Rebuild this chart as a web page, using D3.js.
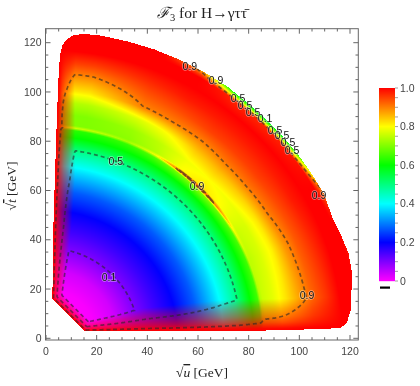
<!DOCTYPE html>
<html>
<head>
<meta charset="utf-8">
<script src="https://cdn.jsdelivr.net/npm/d3@7"></script>
<style>
body { margin: 0; background: #fff; }
#wrap { position: relative; width: 420px; height: 386px; }
#wrap canvas, #wrap svg { position: absolute; left: 0; top: 0; }
</style>
</head>
<body>
<div id="wrap">
  <canvas id="heat" width="420" height="386"></canvas>
  <svg id="chart" width="420" height="386"></svg>
</div>
<script>
// F3 on a polar grid: r = sqrt(t+u) in GeV, phi in degrees from the sqrt(u) axis
var phiNodes = [0, 10, 22, 30, 38, 45, 52, 60, 68, 80, 90];
var rNodes = [10, 16, 20, 28, 36, 44, 52, 60, 68, 76, 82, 85, 86, 87, 91, 96, 101, 106, 112, 117, 122, 123.3, 124.5, 127];
var f3Rows = [
  [0, 0, 0, 0, 0, 0, 0, 0, 0, 0, 0],
  [0, 0, 0, 0, 0, 0, 0, 0, 0, 0, 0],
  [0.005, 0.005, 0.005, 0.005, 0.005, 0.005, 0.005, 0.005, 0.005, 0.005, 0.005],
  [0.035, 0.035, 0.035, 0.035, 0.035, 0.035, 0.035, 0.035, 0.035, 0.035, 0.035],
  [0.095, 0.095, 0.095, 0.095, 0.095, 0.095, 0.095, 0.095, 0.095, 0.095, 0.095],
  [0.15, 0.15, 0.15, 0.15, 0.15, 0.15, 0.15, 0.15, 0.15, 0.15, 0.15],
  [0.20, 0.20, 0.20, 0.20, 0.20, 0.20, 0.20, 0.20, 0.20, 0.20, 0.20],
  [0.27, 0.27, 0.27, 0.27, 0.27, 0.27, 0.27, 0.27, 0.27, 0.27, 0.27],
  [0.37, 0.37, 0.37, 0.37, 0.37, 0.37, 0.37, 0.37, 0.37, 0.37, 0.37],
  [0.48, 0.48, 0.48, 0.48, 0.48, 0.48, 0.48, 0.48, 0.48, 0.48, 0.48],
  [0.60, 0.60, 0.60, 0.60, 0.60, 0.60, 0.60, 0.60, 0.60, 0.60, 0.60],
  [0.65, 0.65, 0.65, 0.66, 0.68, 0.70, 0.69, 0.66, 0.64, 0.63, 0.63],
  [0.74, 0.74, 0.75, 0.79, 0.90, 0.95, 0.93, 0.79, 0.73, 0.76, 0.76],
  [0.76, 0.76, 0.75, 0.76, 0.80, 0.82, 0.80, 0.74, 0.71, 0.70, 0.70],
  [0.78, 0.78, 0.77, 0.77, 0.79, 0.80, 0.79, 0.75, 0.72, 0.70, 0.70],
  [0.82, 0.82, 0.81, 0.82, 0.84, 0.85, 0.84, 0.80, 0.77, 0.74, 0.74],
  [0.86, 0.87, 0.88, 0.90, 0.91, 0.91, 0.90, 0.90, 0.895, 0.82, 0.82],
  [0.91, 0.92, 0.93, 0.94, 0.95, 0.95, 0.95, 0.94, 0.93, 0.88, 0.88],
  [0.96, 0.96, 0.97, 0.98, 0.98, 0.98, 0.98, 0.98, 0.97, 0.95, 0.95],
  [1, 1, 1, 1, 1, 1, 1, 1, 1, 1, 1],
  [1, 1, 1, 1, 0.98, 0.97, 0.97, 1, 1, 1, 1],
  [1, 1, 1, 0.95, 0.78, 0.70, 0.74, 0.95, 1, 1, 1],
  [1, 1, 0.97, 0.88, 0.55, 0.50, 0.55, 0.88, 1, 1, 1],
  [1, 1, 0.95, 0.85, 0.50, 0.45, 0.50, 0.85, 1, 1, 1]
];

// red strip along the straight cuts: share of red vs. scaled distance from the cut
var edgeDist = [0, 0.5, 1, 2, 3.5, 5.5, 8];
var edgeMix = [1, 0.97, 0.88, 0.7, 0.5, 0.3, 0];

// region boundary (sqrt u, sqrt t): outer arc, then the straight cuts
var arcU = [116, 118.7, 120.3, 120.6, 120.6, 119.4, 116.7, 113.4, 109.8, 105.4, 100.6, 95.2, 87.9, 79.9, 71.6, 62.4, 52.7, 42.7, 32.3, 21.7, 14.7, 10.8, 8, 6.5];
var arcT = [4.1, 6.1, 11.5, 20, 27.7, 34.5, 41.3, 48, 58.4, 65.9, 73.1, 79.9, 87.9, 95.2, 102.2, 108.1, 113.1, 117.3, 120.5, 122.9, 123.6, 123, 121.2, 119];
var edgeU = [5.5, 4.9, 4.3, 3.5, 2.9, 2.5, 15.4, 40, 70, 95, 110, 116];
var edgeT = [115, 105, 90, 65, 45, 16.2, 2.9, 2.8, 2.9, 3.3, 3.9, 4.1];
var edgeWidth = [0.8, 0.8, 0.9, 1.0, 0.9, 0.5, 0.5, 1.2, 1.6, 1.6, 1.6, 1.6];

var contourLevels = [0.1, 0.5, 0.9];
var labelText = ["0.1", "0.5", "0.9", "0.9", "0.9", "0.9", "0.9", "0.5", "0.5", "0.5", "0.1", "0.5", "0.5", "0.5", "0.5"];
var labelU = [24.9, 27.6, 59.6, 103, 107.8, 56.8, 67.1, 75.8, 78.6, 81.7, 86.5, 90.4, 93.2, 95.5, 97.1];
var labelT = [24.9, 72, 61.8, 17.6, 58.2, 110.5, 104.9, 97.6, 94.7, 91.9, 89.5, 84.6, 82.5, 79.7, 76.5];

var axisTicks = [0, 20, 40, 60, 80, 100, 120];
var legendTicks = [0, 0.2, 0.4, 0.6, 0.8, 1.0];
var legendTickText = ["0", "0.2", "0.4", "0.6", "0.8", "1.0"];

var svg = d3.select("#chart");
var frame = {left: 45.5, right: 358.3, top: 28.7, bottom: 340};
var x = d3.scaleLinear().domain([0, 120]).range([46, 350]);
var y = d3.scaleLinear().domain([0, 120]).range([338.3, 42.7]);
var mixScale = d3.scaleLinear().domain(edgeDist).range(edgeMix).clamp(true);

function rainbow(v) {
    return d3.rgb(d3.hsl(300 * (1 - Math.max(0, Math.min(1, v))), 1, 0.5));
}

function interior(r, phi) {
    r = Math.max(rNodes[0], Math.min(rNodes[rNodes.length - 1], r));
    phi = Math.max(0, Math.min(90, phi));
    var i = Math.min(d3.bisectRight(rNodes, r) - 1, rNodes.length - 2);
    var j = Math.min(d3.bisectRight(phiNodes, phi) - 1, phiNodes.length - 2);
    var fr = (r - rNodes[i]) / (rNodes[i + 1] - rNodes[i]);
    var fp = (phi - phiNodes[j]) / (phiNodes[j + 1] - phiNodes[j]);
    var a = f3Rows[i][j], b = f3Rows[i][j + 1], c = f3Rows[i + 1][j], d = f3Rows[i + 1][j + 1];
    return (a * (1 - fp) + b * fp) * (1 - fr) + (c * (1 - fp) + d * fp) * fr;
}

// distance to the straight cuts, divided by the local strip width
function edgeDistance(u, t) {
    var best = Infinity;
    for (var k = 0; k < edgeU.length - 1; k++) {
        var ax = edgeU[k], ay = edgeT[k], bx = edgeU[k + 1], by = edgeT[k + 1];
        var dx = bx - ax, dy = by - ay;
        var s = ((u - ax) * dx + (t - ay) * dy) / (dx * dx + dy * dy);
        s = Math.max(0, Math.min(1, s));
        var ex = ax + s * dx - u, ey = ay + s * dy - t;
        var w = edgeWidth[k] * (1 - s) + edgeWidth[k + 1] * s;
        best = Math.min(best, Math.sqrt(ex * ex + ey * ey) / w);
    }
    return best;
}

var regionPx = arcU.map(function(d, i) { return [x(d), y(arcT[i])]; })
    .concat(edgeU.map(function(d, i) { return [x(d), y(edgeT[i])]; }));

// density picture + value grid for the contours
var canvas = document.getElementById("heat");
var ctx = canvas.getContext("2d");
var img = ctx.createImageData(420, 386);
var x0 = Math.floor(frame.left), x1 = Math.ceil(frame.right);
var y0 = Math.floor(frame.top), y1 = Math.ceil(frame.bottom);
var gw = x1 - x0, gh = y1 - y0;
var grid = new Array(gw * gh);

for (var py = y0; py < y1; py++) {
    for (var px = x0; px < x1; px++) {
        var u = x.invert(px + 0.5), t = y.invert(py + 0.5);
        var r = Math.sqrt(u * u + t * t);
        var phi = Math.atan2(t, u) * 180 / Math.PI;
        var inside = d3.polygonContains(regionPx, [px + 0.5, py + 0.5]);
        var v = interior(r, phi);
        var m = inside ? mixScale(edgeDistance(u, t)) : (r < 110 ? 1 : 0);
        grid[(py - y0) * gw + (px - x0)] = v + (1 - v) * m;
        if (inside) {
            var c = rainbow(v);
            var o = (py * 420 + px) * 4;
            img.data[o] = Math.round(c.r + (255 - c.r) * m);
            img.data[o + 1] = Math.round(c.g * (1 - m));
            img.data[o + 2] = Math.round(c.b * (1 - m));
            img.data[o + 3] = 255;
        }
    }
}
ctx.putImageData(img, 0, 0);

var defs = svg.append("defs");
defs.append("clipPath").attr("id", "region")
    .append("polygon")
    .attr("points", regionPx.map(function(p) { return p.join(","); }).join(" "));

var contours = d3.contours().size([gw, gh]).thresholds(contourLevels)(grid);
svg.append("g")
    .attr("clip-path", "url(#region)")
  .append("g")
    .attr("transform", "translate(" + x0 + "," + y0 + ")")
    .selectAll("path")
    .data(contours)
    .enter().append("path")
    .attr("d", d3.geoPath())
    .attr("fill", "none")
    .attr("stroke", "rgba(40,40,40,0.6)")
    .attr("stroke-width", 1.7)
    .attr("stroke-dasharray", "4,3");

svg.append("g").selectAll("text")
    .data(labelText)
    .enter().append("text")
    .attr("x", function(d, i) { return x(labelU[i]); })
    .attr("y", function(d, i) { return y(labelT[i]); })
    .attr("dy", "0.35em")
    .attr("text-anchor", "middle")
    .attr("font-family", "'Liberation Sans', Arial, sans-serif")
    .attr("font-size", 10.5)
    .attr("fill", "#111")
    .attr("stroke", "rgba(255,255,255,0.45)")
    .attr("stroke-width", 1.5)
    .attr("paint-order", "stroke")
    .text(function(d) { return d; });

// frame with ticks on all sides
svg.append("rect")
    .attr("x", frame.left).attr("y", frame.top)
    .attr("width", frame.right - frame.left).attr("height", frame.bottom - frame.top)
    .attr("fill", "none").attr("stroke", "#666").attr("stroke-width", 1);

var minor = d3.range(0, 125, 5);
var tg = svg.append("g").attr("stroke", "#666").attr("stroke-width", 1);
minor.forEach(function(d) {
    var len = d % 20 === 0 ? 5 : 2.8;
    if (x(d) <= frame.right) {
        tg.append("line").attr("x1", x(d)).attr("x2", x(d)).attr("y1", frame.bottom).attr("y2", frame.bottom - len);
        tg.append("line").attr("x1", x(d)).attr("x2", x(d)).attr("y1", frame.top).attr("y2", frame.top + len);
    }
    if (y(d) >= frame.top) {
        tg.append("line").attr("y1", y(d)).attr("y2", y(d)).attr("x1", frame.left).attr("x2", frame.left + len);
        tg.append("line").attr("y1", y(d)).attr("y2", y(d)).attr("x1", frame.right).attr("x2", frame.right - len);
    }
});

svg.append("g").selectAll("text")
    .data(axisTicks)
    .enter().append("text")
    .attr("x", function(d) { return x(d); })
    .attr("y", frame.bottom + 15)
    .attr("text-anchor", "middle")
    .attr("font-family", "'Liberation Sans', Arial, sans-serif")
    .attr("font-size", 10.5)
    .attr("fill", "#444")
    .text(function(d) { return d; });

svg.append("g").selectAll("text")
    .data(axisTicks)
    .enter().append("text")
    .attr("x", frame.left - 4)
    .attr("y", function(d) { return y(d); })
    .attr("dy", "0.35em")
    .attr("text-anchor", "end")
    .attr("font-family", "'Liberation Sans', Arial, sans-serif")
    .attr("font-size", 10.5)
    .attr("fill", "#444")
    .text(function(d) { return d; });

// titles
var serif = "'Liberation Serif', 'DejaVu Serif', serif";
var title = svg.append("text")
    .attr("x", 202).attr("y", 18)
    .attr("text-anchor", "middle")
    .attr("font-family", serif)
    .attr("font-size", 15.5)
    .attr("fill", "#222");
title.append("tspan").attr("font-style", "italic").text("\u2131");
title.append("tspan").attr("font-size", 10.5).attr("dy", 3).text("3");
title.append("tspan").attr("dy", -3).text(" for H\u2192\u03b3\u03c4\u03c4\u0304");

var xl = svg.append("text")
    .attr("x", 202).attr("y", 377)
    .attr("text-anchor", "middle")
    .attr("font-family", serif).attr("font-size", 13.5).attr("fill", "#222");
xl.append("tspan").text("\u221a");
xl.append("tspan").attr("font-style", "italic").style("text-decoration", "overline").text("u");
xl.append("tspan").text("  [GeV]");

var yl = svg.append("text")
    .attr("transform", "translate(16,186) rotate(-90)")
    .attr("text-anchor", "middle")
    .attr("font-family", serif).attr("font-size", 13.5).attr("fill", "#222");
yl.append("tspan").text("\u221a");
yl.append("tspan").attr("font-style", "italic").style("text-decoration", "overline").text("t");
yl.append("tspan").text("  [GeV]");

// colour bar legend
var ly = d3.scaleLinear().domain([0, 1]).range([281, 88]);
var lg = svg.append("g");
lg.selectAll("rect")
    .data(d3.range(88, 281))
    .enter().append("rect")
    .attr("x", 379).attr("y", function(d) { return d; })
    .attr("width", 16).attr("height", 1.2)
    .attr("fill", function(d) { return rainbow(ly.invert(d + 0.5)).toString(); });
lg.selectAll("line")
    .data(d3.range(0, 1.001, 0.05))
    .enter().append("line")
    .attr("x1", 395).attr("x2", 398)
    .attr("y1", function(d) { return ly(d); }).attr("y2", function(d) { return ly(d); })
    .attr("stroke", "#888").attr("stroke-width", 0.8);
lg.selectAll("text")
    .data(legendTicks)
    .enter().append("text")
    .attr("x", 400)
    .attr("y", function(d) { return ly(d); })
    .attr("dy", "0.35em")
    .attr("font-family", "'Liberation Sans', Arial, sans-serif")
    .attr("font-size", 10.5)
    .attr("fill", "#444")
    .text(function(d, i) { return legendTickText[i]; });
lg.append("rect")
    .attr("x", 380).attr("y", 286.5).attr("width", 10).attr("height", 2.2)
    .attr("fill", "#000");
</script>
</body>
</html>
